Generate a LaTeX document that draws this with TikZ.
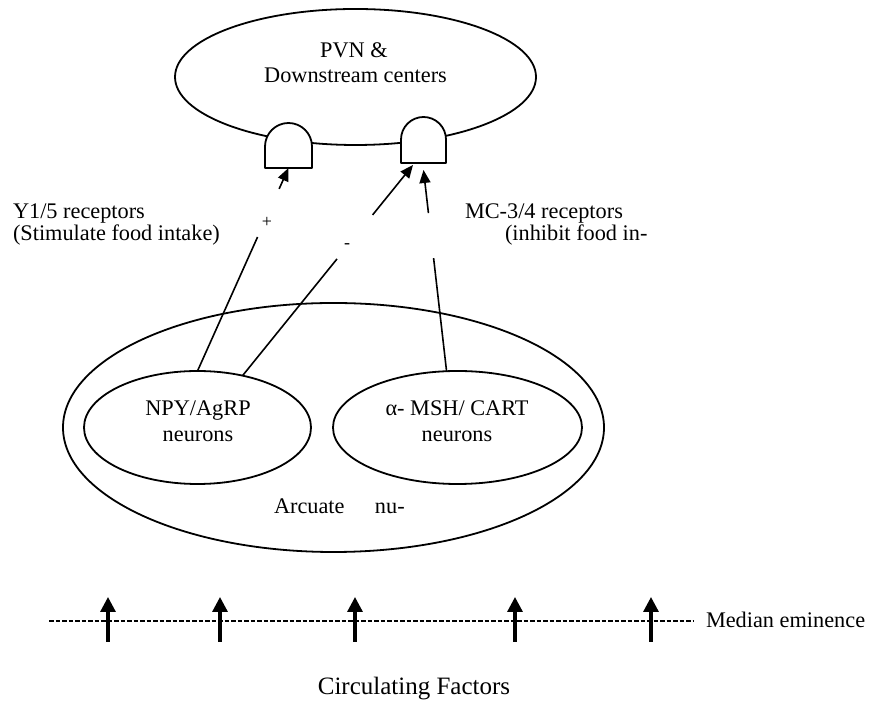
\documentclass[tikz,border=0pt]{standalone}
\usepackage{fontspec}
\setmainfont{Liberation Serif}
\usetikzlibrary{shapes.geometric, arrows.meta, calc}
\begin{document}
\begin{tikzpicture}[x=1pt,y=1pt,
  ell/.style={draw, ellipse, line width=1.8pt, inner sep=0pt, outer sep=0pt},
  lbl/.style={font=\fontsize{22.3pt}{26pt}\selectfont, inner sep=0pt, outer sep=0pt},
  sgn/.style={font=\fontsize{18pt}{20pt}\selectfont, inner sep=0pt, outer sep=0pt},
  conn/.style={line width=1.6pt},
  arr/.style={conn, -{Triangle[length=13pt,width=11pt]}},
  recbox/.style={inner sep=0pt, outer sep=0pt},
  recshape/.style={draw, fill=white, line width=1.8pt, line join=round},
  bigarr/.style={line width=3.2pt, -{Triangle[length=15pt,width=15pt]}},
  eminence/.style={line width=1.2pt, dash pattern=on 4.5pt off 2pt}]
\useasboundingbox (0,0) rectangle (880,703);

% PVN ellipse
\node[ell, minimum width=361pt, minimum height=136pt] (pvn) at (355.5,626) {};
\node[lbl, anchor=base] (pvn1) at (354,645) {PVN \&};
\node[lbl, anchor=base] (pvn2) at (355.5,620) {Downstream centers};

% receptors
\node[recbox, minimum width=47pt, minimum height=45pt] (recL) at (288.5,557.5) {};
\draw[recshape] (recL.south west) -- ++(0,21.5) arc[start angle=180, end angle=0, radius=23.5pt] -- (recL.south east) -- cycle;
\node[recbox, minimum width=45pt, minimum height=46pt] (recR) at (423.5,563) {};
\draw[recshape] (recR.south west) -- ++(0,23.5) arc[start angle=180, end angle=0, radius=22.5pt] -- (recR.south east) -- cycle;

% Arcuate nucleus and neurons
\node[ell, minimum width=541pt, minimum height=249pt] (arc) at (333.5,275.5) {};
\node[ell, minimum width=227pt, minimum height=113pt] (npy) at (197.5,275.5) {};
\node[ell, minimum width=249pt, minimum height=113pt] (msh) at (457.5,275.5) {};
\node[lbl, anchor=base] (npy1) at (198,287) {NPY/AgRP};
\node[lbl, anchor=base] (npy2) at (198,261) {neurons};
\node[lbl, anchor=base] (msh1) at (457,287) {α- MSH/ CART};
\node[lbl, anchor=base] (msh2) at (457,261) {neurons};
\node[lbl, anchor=base west] (arcl) at (274,189) {Arcuate\hspace{30.4pt}nu-};

% labels
\node[lbl, anchor=base west] (y15a) at (13,484) {Y1/5 receptors};
\node[lbl, anchor=base west] (y15b) at (13,462) {(Stimulate food intake)};
\node[lbl, anchor=base west] (mca) at (465,484) {MC-3/4 receptors};
\node[lbl, anchor=base west] (mcb) at (505,462) {(inhibit food in-};
\node[sgn] (plus) at (267,481) {+};
\node[sgn] (minus) at (347,457) {-};

% connectors
\coordinate (g1a) at ($(npy.north)!0.66!(recL.south)$);
\coordinate (g1b) at ($(npy.north)!0.897!(recL.south)$);
\draw[conn] (npy.north) -- (g1a);
\draw[arr] (g1b) -- (recL.south);

\coordinate (t2) at ($(recR.south)+(-10.5,-2)$);
\coordinate (g2a) at ($(npy.49)!0.554!(t2)$);
\coordinate (g2b) at ($(npy.49)!0.763!(t2)$);
\draw[conn] (npy.49) -- (g2a);
\draw[arr] (g2b) -- (t2);

\coordinate (t3) at ($(recR.south)+(0,-7)$);
\coordinate (g3a) at ($(msh.101)!0.562!(t3)$);
\coordinate (g3b) at ($(msh.101)!0.786!(t3)$);
\draw[conn] (msh.101) -- (g3a);
\draw[arr] (g3b) -- (t3);

% median eminence
\coordinate (meL) at (49,82);
\coordinate (meR) at (694,82);
\draw[eminence] (meL) -- (meR);
\foreach \i/\x in {1/108,2/220,3/355,4/515,5/651}{
  \coordinate (cf\i) at (\x,61);
  \coordinate (me\i) at (\x,106);
  \draw[bigarr] (cf\i) -- (me\i);
}
\node[lbl, anchor=base west] (medlbl) at (706,75) {Median eminence};
\node[lbl, anchor=base, font=\fontsize{25pt}{28pt}\selectfont] (circ) at (414,8) {Circulating Factors};
\end{tikzpicture}
\end{document}
